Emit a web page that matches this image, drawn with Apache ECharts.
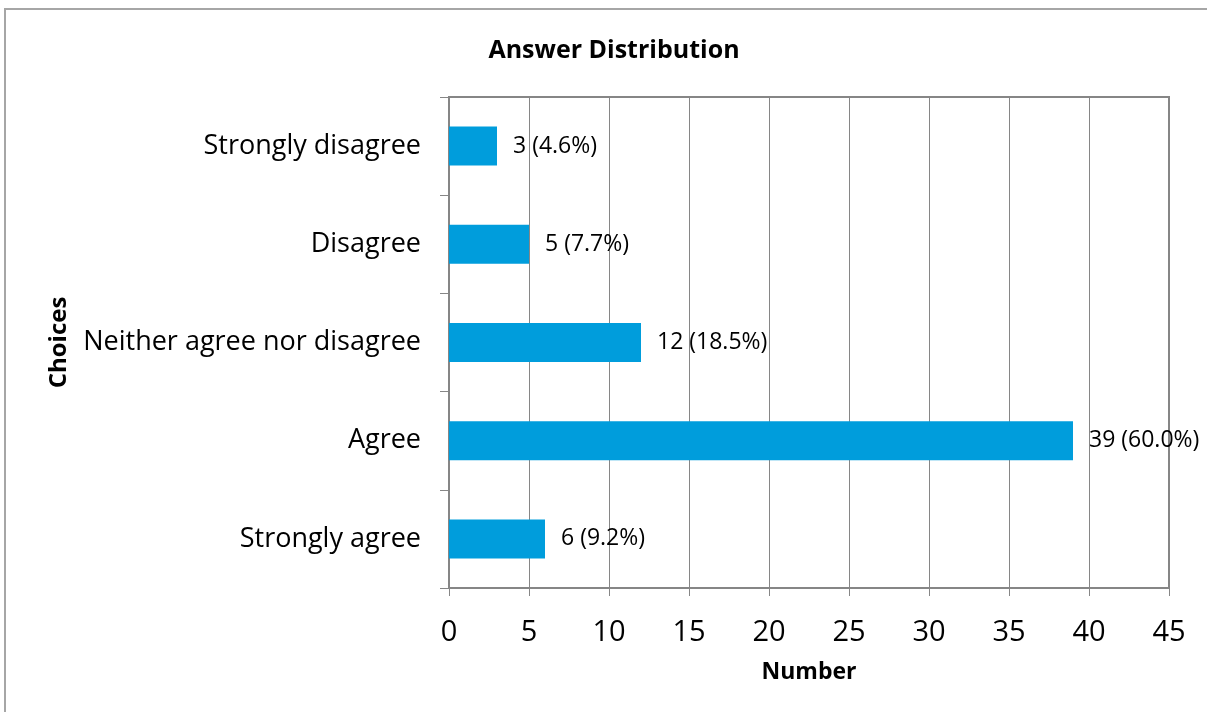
<!DOCTYPE html>
<html><head><meta charset="utf-8">
<script src="https://cdn.jsdelivr.net/npm/echarts@6/dist/echarts.min.js"></script>
<style>html,body{margin:0;padding:0;background:#fff}#c{width:1207px;height:712px}</style>
</head><body><div id="c"></div>
<script>
const categories = ['Strongly disagree','Disagree','Neither agree nor disagree','Agree','Strongly agree'];
const counts = [3, 5, 12, 39, 6];
const percents = ['4.6%','7.7%','18.5%','60.0%','9.2%'];
const xTicks = [0,5,10,15,20,25,30,35,40,45];
const FONT = 'Open Sans';
const chart = echarts.init(document.getElementById('c'), null, {renderer:'canvas'});
chart.setOption({
  animation:false,
  backgroundColor:'#fff',
  graphic:[{type:'rect', shape:{x:5,y:9,width:1220,height:720}, style:{fill:'none', stroke:'#a6a6a6', lineWidth:2}, silent:true}],
  title:{text:'Answer Distribution', left:609, top:33, textAlign:'center',
    textStyle:{fontFamily:FONT, fontWeight:'bold', fontSize:25, color:'#000'}},
  grid:{left:449, right:38, top:97, bottom:124, show:true, borderColor:'#868686', borderWidth:2, containLabel:false},
  xAxis:{type:'value', min:0, max:45, interval:5,
    name:'Number', nameLocation:'middle', nameGap:73,
    nameTextStyle:{fontFamily:FONT, fontWeight:'bold', fontSize:23, color:'#000'},
    axisLine:{show:true, lineStyle:{color:'#868686', width:2}},
    axisTick:{show:true, length:8, lineStyle:{color:'#868686'}},
    splitLine:{show:true, lineStyle:{color:'#868686', width:1}},
    axisLabel:{fontFamily:FONT, fontSize:29, color:'#000', margin:30,
      formatter:v=> xTicks.includes(v) ? String(v) : ''}},
  yAxis:{type:'category', data:categories, inverse:true,
    name:'Choices', nameLocation:'middle', nameGap:378, nameRotate:90,
    nameTextStyle:{fontFamily:FONT, fontWeight:'bold', fontSize:24, color:'#000'},
    axisLine:{show:true, lineStyle:{color:'#868686', width:2}},
    axisTick:{show:true, length:9, lineStyle:{color:'#868686'}},
    splitLine:{show:false},
    axisLabel:{fontFamily:FONT, fontSize:27, color:'#000', margin:28, padding:[4,0,0,0]}},
  series:[{type:'bar', data:counts, barWidth:39,
    itemStyle:{color:'#009ddc'},
    label:{show:true, position:'right', distance:16, fontFamily:FONT, fontSize:23, color:'#000',
      formatter:p=> p.value + ' (' + percents[p.dataIndex] + ')'}}]
});
</script></body></html>
